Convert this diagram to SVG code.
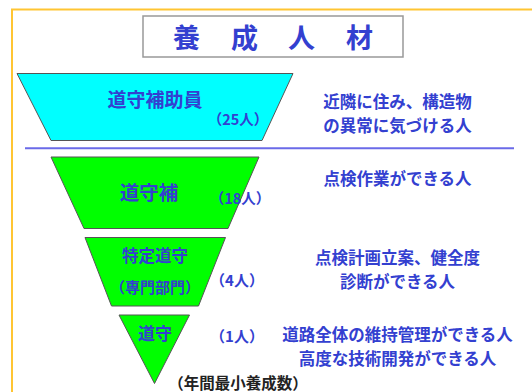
<svg xmlns="http://www.w3.org/2000/svg" width="532" height="392" viewBox="0 0 532 392">
<style>
.t{font-family:"Noto Sans CJK JP","Noto Sans CJK SC",sans-serif;fill:#3340d0;font-weight:bold}
.c{text-anchor:middle}
.d{font-size:16.5px}
.shape{stroke:#555;stroke-width:1}
</style>
<rect width="532" height="392" fill="#fff"/>
<g id="frame">
<polyline points="532,9.5 12,9.5 12,392" fill="none" stroke="#ffc533" stroke-width="2"/>
</g>
<g id="title">
<rect x="143" y="16" width="260" height="41" fill="#fff" stroke="#999" stroke-width="1.5"/>
<text class="t" font-size="27" x="173 231 288 346" y="48">養成人材</text>
</g>
<g id="connectors">
<line x1="25" y1="148.3" x2="514" y2="148.3" stroke="#6a6ae8" stroke-width="2"/>
</g>
<g id="helper">
<polygon class="shape" points="17,73.5 293,73.5 262,140.5 51,140.5" fill="#00ffff"/>
<text class="t c" font-size="19" x="155" y="107">道守補助員</text>
<text class="t c" font-size="14.5" x="238" y="125">（25人）</text>
</g>
<g id="dosyuho">
<polygon class="shape" points="51,157 259,157 228,228.5 84,228.5" fill="#00ff00"/>
<text class="t c" font-size="19.5" x="149" y="200">道守補</text>
<text class="t c" font-size="14.5" x="240" y="204">（18人）</text>
</g>
<g id="tokutei">
<polygon class="shape" points="85,237.5 225.5,237.5 198.5,306 111.5,306" fill="#00ff00"/>
<text class="t c" font-size="16.5" x="155" y="262">特定道守</text>
<text class="t c" font-size="15" x="155" y="293">（専門部門）</text>
<text class="t c" font-size="15" x="237" y="286">（4人）</text>
</g>
<g id="dosyu">
<polygon class="shape" points="119,315 189.5,315 154.5,383.5" fill="#00ff00"/>
<text class="t c" font-size="17" x="155" y="340">道守</text>
<text class="t c" font-size="15" x="237" y="342">（1人）</text>
</g>
<g id="descriptions">
<text class="t c d" x="397.5" y="107.5">近隣に住み、構造物</text>
<text class="t c d" x="397.5" y="131.5">の異常に気づける人</text>
<text class="t c d" x="397.5" y="185">点検作業ができる人</text>
<text class="t c d" x="397.5" y="263.5">点検計画立案、健全度</text>
<text class="t c d" x="397.5" y="287.5">診断ができる人</text>
<text class="t c d" x="397.5" y="340.5">道路全体の維持管理ができる人</text>
<text class="t c d" x="397.5" y="364.5">高度な技術開発ができる人</text>
</g>
<g id="caption">
<text class="c" font-family="Noto Sans CJK JP, sans-serif" font-weight="bold" fill="#222" font-size="15.5" x="238" y="389">（年間最小養成数）</text>
</g>
</svg>
